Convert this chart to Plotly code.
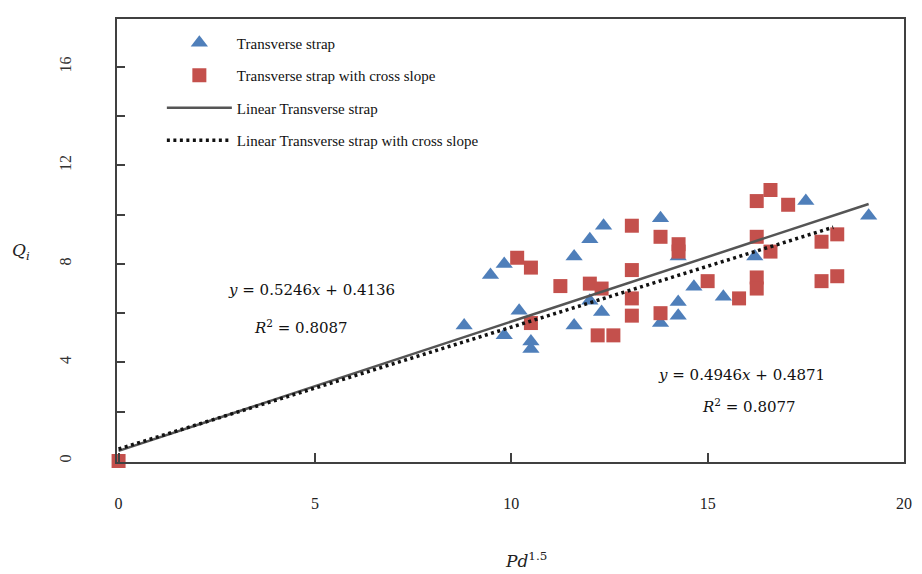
import plotly.graph_objects as go

# ---- data ----
tri_x = [8.8, 9.47, 9.82, 9.82, 10.2, 10.5, 10.5, 11.6, 12.0, 12.35, 11.6, 12.3, 12.0,
         13.8, 14.25, 14.65, 14.25, 14.25, 13.8, 15.4, 16.2, 17.5, 19.1]
tri_y = [5.5, 7.55, 8.0, 5.1, 6.1, 4.55, 4.85, 8.3, 9.0, 9.55, 5.5, 6.05, 6.5,
         9.85, 8.3, 7.07, 6.45, 5.9, 5.6, 6.67, 8.3, 10.55, 9.95]

sq_x = [0.0, 10.15, 10.5, 10.5, 11.25, 12.0, 12.3, 12.2, 12.6, 13.07, 13.07, 13.07, 13.07,
        13.8, 14.26, 14.26, 13.8, 15.0, 15.8, 16.25, 16.25, 16.25, 16.6, 16.25, 16.6,
        17.05, 17.9, 18.3, 17.9, 18.3]
sq_y = [0.0, 8.25, 7.85, 5.6, 7.1, 7.2, 7.0, 5.1, 5.1, 9.55, 7.75, 6.6, 5.9,
        9.1, 8.8, 8.5, 6.0, 7.3, 6.6, 7.45, 7.0, 9.1, 8.5, 10.55, 11.0,
        10.4, 8.9, 9.2, 7.3, 7.5]

fit1_slope, fit1_icpt, fit1_r2, fit1_xend = 0.5246, 0.4136, 0.8087, 19.1
fit2_slope, fit2_icpt, fit2_r2, fit2_xend = 0.4946, 0.4871, 0.8077, 18.2

x_ticks = [0, 5, 10, 15, 20]
y_label_ticks = [0, 4, 8, 12, 16]

names = ["Transverse strap", "Transverse strap with cross slope",
         "Linear Transverse strap", "Linear Transverse strap with cross slope"]

BLUE = "#4F7FBA"
RED = "#C4504C"
SERIF = "Liberation Serif"
MATH = "DejaVu Serif"

fig = go.Figure()
fig.add_trace(go.Scatter(x=tri_x, y=tri_y, mode="markers", name=names[0],
                         legendgroup="a",
                         marker=dict(symbol="triangle-up", size=15, color=BLUE,
                                     line=dict(width=0)), cliponaxis=False))
fig.add_trace(go.Scatter(x=sq_x, y=sq_y, mode="markers", name=names[1],
                         legendgroup="b",
                         marker=dict(symbol="square", size=14, color=RED,
                                     line=dict(width=0)), cliponaxis=False))
fig.add_trace(go.Scatter(x=[0, fit1_xend],
                         y=[fit1_icpt, fit1_slope * fit1_xend + fit1_icpt],
                         mode="lines", name=names[2], legendgroup="c",
                         line=dict(color="#555555", width=2.5)))
fig.add_trace(go.Scatter(x=[0, fit2_xend],
                         y=[fit2_icpt, fit2_slope * fit2_xend + fit2_icpt],
                         mode="lines", name=names[3], legendgroup="d",
                         line=dict(color="#111111", width=3.5, dash="3px,3.5px")))

fig.update_layout(
    width=922, height=574,
    margin=dict(l=117, r=10, t=19, b=112),
    paper_bgcolor="white", plot_bgcolor="white",
    font=dict(family=SERIF, size=16, color="#222222"),
    showlegend=True,
    legend=dict(x=0.057, y=0.983, xanchor="left", yanchor="top",
                bgcolor="rgba(0,0,0,0)", font=dict(family=SERIF, size=15, color="#111111"),
                itemwidth=65, tracegroupgap=10),
    xaxis=dict(range=[-0.04, 20.0], tickvals=x_ticks, ticks="inside", ticklen=9,
               tickwidth=2, tickcolor="#404040", showline=True, mirror=True,
               linecolor="#404040", linewidth=2, showgrid=False, zeroline=False,
               ticklabelstandoff=26, tickfont=dict(family=SERIF, size=16, color="#222222")),
    yaxis=dict(range=[-0.04, 17.94], tickvals=y_label_ticks,
               ticks="inside", ticklen=8, tickwidth=2, tickcolor="#404040",
               minor=dict(dtick=2, tick0=0, ticks="inside", ticklen=8, tickwidth=2,
                          tickcolor="#404040", showgrid=False),
               showline=True, mirror=True, linecolor="#404040", linewidth=2,
               showgrid=False, zeroline=False, tickangle=-90, ticklabelstandoff=38,
               tickfont=dict(family=SERIF, size=16, color="#333333")),
)

# axis titles
fig.add_annotation(xref="paper", yref="paper", x=0.52, y=-0.222, yanchor="middle",
                   text="<i>Pd</i><sup>1.5</sup>", showarrow=False,
                   font=dict(family=MATH, size=17, color="#222222"))
fig.add_annotation(xref="paper", yref="paper", x=-0.122, y=0.475, xanchor="center",
                   text="<i>Q</i><sub><i>i</i></sub>", showarrow=False,
                   font=dict(family=MATH, size=17, color="#222222"))

# equations
fig.add_annotation(x=4.9, y=6.95, text=f"<i>y</i> = {fit1_slope}<i>x</i> + {fit1_icpt}",
                   showarrow=False, font=dict(family=MATH, size=15, color="#111111"))
fig.add_annotation(x=4.65, y=5.45, text=f"<i>R</i><sup>2</sup> = {fit1_r2}",
                   showarrow=False, font=dict(family=MATH, size=15, color="#111111"))
fig.add_annotation(x=15.85, y=3.5, text=f"<i>y</i> = {fit2_slope}<i>x</i> + {fit2_icpt}",
                   showarrow=False, font=dict(family=MATH, size=15, color="#111111"))
fig.add_annotation(x=16.05, y=2.22, text=f"<i>R</i><sup>2</sup> = {fit2_r2}",
                   showarrow=False, font=dict(family=MATH, size=15, color="#111111"))

fig.write_html("out.html", config={"displayModeBar": False},
               post_script="document.body.style.margin='0';document.body.style.overflow='hidden';")
